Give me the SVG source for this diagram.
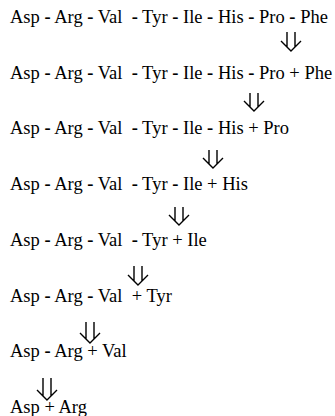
<svg xmlns="http://www.w3.org/2000/svg" width="335" height="416" viewBox="0 0 335 416">
<style>
.t{font-family:"Liberation Serif","Times New Roman",serif;font-size:18.5px;fill:#000}
.h{font-weight:bold}
.a{fill:none;stroke:#000;stroke-width:1.4}
</style>
<rect width="335" height="416" fill="#fff"/>
<g id="step1"><text class="t" x="10" y="23" xml:space="preserve">Asp <tspan class="h">-</tspan> Arg <tspan class="h">-</tspan> Val  <tspan class="h">-</tspan> Tyr <tspan class="h">-</tspan> Ile <tspan class="h">-</tspan> His <tspan class="h">-</tspan> Pro <tspan class="h">-</tspan> Phe</text></g>
<g id="step2"><text class="t" x="10" y="78.7" xml:space="preserve">Asp <tspan class="h">-</tspan> Arg <tspan class="h">-</tspan> Val  <tspan class="h">-</tspan> Tyr <tspan class="h">-</tspan> Ile <tspan class="h">-</tspan> His <tspan class="h">-</tspan> Pro + Phe</text></g>
<g id="step3"><text class="t" x="10" y="134.4" xml:space="preserve">Asp <tspan class="h">-</tspan> Arg <tspan class="h">-</tspan> Val  <tspan class="h">-</tspan> Tyr <tspan class="h">-</tspan> Ile <tspan class="h">-</tspan> His + Pro</text></g>
<g id="step4"><text class="t" x="10" y="190.1" xml:space="preserve">Asp <tspan class="h">-</tspan> Arg <tspan class="h">-</tspan> Val  <tspan class="h">-</tspan> Tyr <tspan class="h">-</tspan> Ile + His</text></g>
<g id="step5"><text class="t" x="10" y="245.8" xml:space="preserve">Asp <tspan class="h">-</tspan> Arg <tspan class="h">-</tspan> Val  <tspan class="h">-</tspan> Tyr + Ile</text></g>
<g id="step6"><text class="t" x="10" y="301.5" xml:space="preserve">Asp <tspan class="h">-</tspan> Arg <tspan class="h">-</tspan> Val  + Tyr</text></g>
<g id="step7"><text class="t" x="10" y="357.2" xml:space="preserve">Asp <tspan class="h">-</tspan> Arg + Val</text></g>
<g id="step8"><text class="t" x="10" y="412.9" xml:space="preserve">Asp + Arg</text></g>
<g id="connectors">
<path class="a" d="M287 32V47M295 32V47M281 41L291 51L301 41"/>
<path class="a" d="M250 93V107M258 93V107M244 101L254 111L264 101"/>
<path class="a" d="M209 150V164M217 150V164M203 158L213 168L223 158"/>
<path class="a" d="M175 207V221M183 207V221M169 215L179 225L189 215"/>
<path class="a" d="M134 266V281M142 266V281M128 275L138 285L148 275"/>
<path class="a" d="M86 322V339M94 322V339M80 333L90 343L100 333"/>
<path class="a" d="M43 378V396M51 378V396M37 390L47 400L57 390"/>
</g>
</svg>
